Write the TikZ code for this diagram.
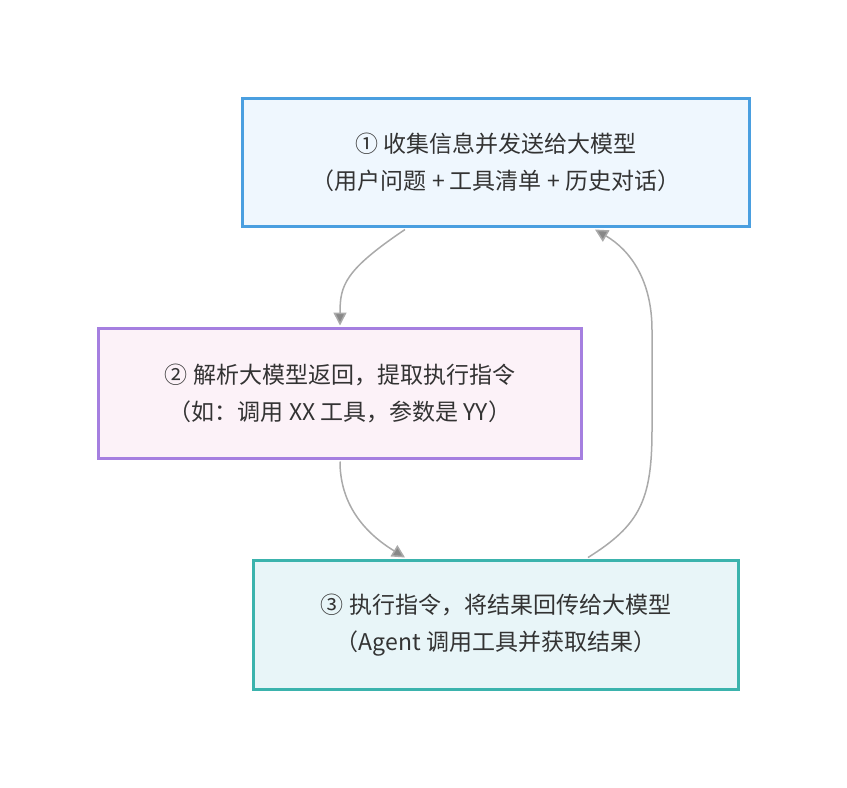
\documentclass[tikz,border=0pt]{standalone}
\usepackage{fontspec}
\setmainfont{Noto Sans CJK SC}
\usetikzlibrary{arrows.meta}
\definecolor{tx}{HTML}{333333}
\definecolor{ln}{HTML}{AAAAAA}
\tikzset{
 box/.style={draw, line width=3pt, minimum width=#1, inner sep=0pt, align=center, text=tx, font=\fontsize{23}{37}\selectfont},
 con/.style={draw=ln, line width=1.5pt, -{Triangle[length=13pt,width=13pt,fill=ln!80!black]}},
}
\begin{document}
\begin{tikzpicture}[x=1pt,y=-1pt]
\useasboundingbox (0,0) rectangle (847,788);
\node[box=507pt, minimum height=128pt, fill={rgb,255:red,239;green,247;blue,254}, draw={rgb,255:red,74;green,159;blue,224}] (a) at (496,162.5) {① 收集信息并发送给大模型\\（用户问题 + 工具清单 + 历史对话）};
\node[box=483pt, minimum height=130pt, fill={rgb,255:red,252;green,242;blue,248}, draw={rgb,255:red,165;green,127;blue,224}] (b) at (340,393.5) {② 解析大模型返回，提取执行指令\\（如：调用 XX 工具，参数是 YY）};
\node[box=485pt, minimum height=129pt, fill={rgb,255:red,232;green,245;blue,248}, draw={rgb,255:red,59;green,179;blue,173}] (c) at (496,625) {③ 执行指令，将结果回传给大模型\\（Agent 调用工具并获取结果）};
\coordinate (a1) at (405,229.5);
\coordinate (b1) at (340,325.5);
\coordinate (b2) at (340,461.5);
\coordinate (c1) at (405,557.5);
\coordinate (c2) at (588,557.5);
\coordinate (a2) at (595,229.5);
\draw[con] (a1) .. controls (345,270) and (340,285) .. (b1);
\draw[con] (b2) .. controls (340,500) and (360,530) .. (c1);
\draw[con] (c2) .. controls (640,525) and (652,500) .. (652,430) -- (652,330) .. controls (652,280) and (630,250) .. (a2);
\end{tikzpicture}
\end{document}
